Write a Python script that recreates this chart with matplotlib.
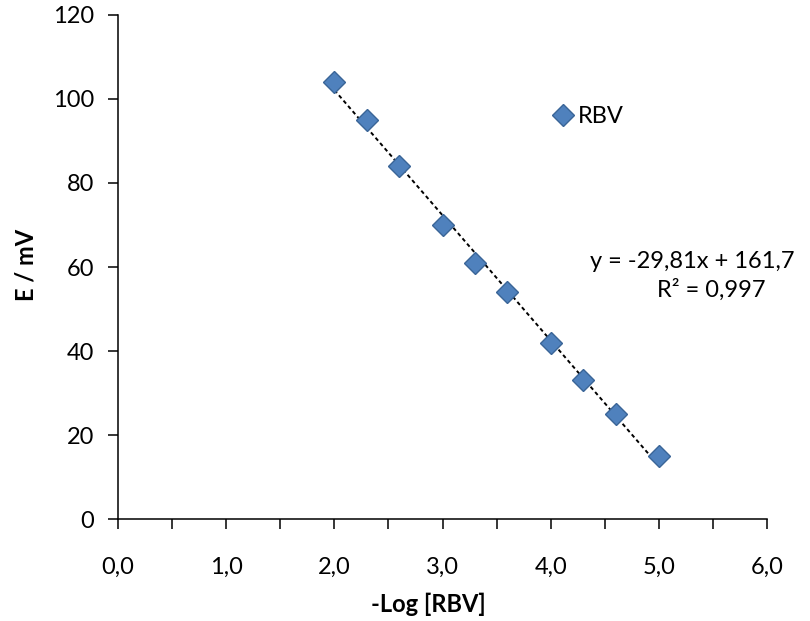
import numpy as np
import matplotlib.pyplot as plt

plt.rcParams['font.family'] = ['Lato', 'DejaVu Sans']

# -Log [RBV] vs potential
log_rbv = [2.0, 2.3, 2.6, 3.0, 3.3, 3.6, 4.0, 4.3, 4.6, 5.0]
e_mv = [104, 95, 84, 70, 61, 54, 42, 33, 25, 15]
eq_text = "y = -29,81x + 161,7"
r2_text = "R² = 0,997"
xticks = [0, 1, 2, 3, 4, 5, 6]
yticks = [0, 20, 40, 60, 80, 100, 120]

fig = plt.figure(figsize=(8.1, 6.21), dpi=100)
ax = fig.add_axes([0.1457, 0.164, 0.8013, 0.812])

# trendline
slope, icpt = np.polyfit(log_rbv, e_mv, 1)
xx = np.array([min(log_rbv), max(log_rbv)])
ax.plot(xx, slope * xx + icpt, color='black', lw=1.4, linestyle=(0, (2, 1.6)), zorder=2)

ax.plot(log_rbv, e_mv, linestyle='none', marker='D', markersize=11.5,
        markerfacecolor='#4F81BD', markeredgecolor='#3A6597', markeredgewidth=1.0,
        label='RBV', zorder=3)

ax.set_xlim(0, 6)
ax.set_ylim(0, 120)
ax.set_xticks(xticks)
ax.set_xticklabels([f"{v:.1f}".replace('.', ',') for v in xticks])
ax.set_xticks(np.arange(0.5, 6, 1.0), minor=True)
ax.set_yticks(yticks)
ax.tick_params(axis='both', which='both', direction='out', length=7, width=1.1,
               labelsize=17, color='black')
ax.tick_params(axis='x', pad=20)
ax.tick_params(axis='y', pad=10)
for s in ['top', 'right']:
    ax.spines[s].set_visible(False)
for s in ['left', 'bottom']:
    ax.spines[s].set_linewidth(1.1)

fig.text(428 / 810, 1 - 604 / 621, '-Log [RBV]', fontsize=17, fontweight='bold',
         ha='center', va='center')
fig.text(26 / 810, 1 - 265 / 621, 'E / mV', fontsize=17, fontweight='bold',
         ha='center', va='center', rotation=90)

leg = ax.legend(loc='center left', bbox_to_anchor=(0.667, 0.798), frameon=False,
                fontsize=17, handletextpad=0.15, handlelength=1.0, markerscale=0.95,
                borderpad=0, borderaxespad=0)

ax.text(5.306, 61.2, eq_text, ha='center', va='center', fontsize=17)
ax.text(5.482, 54.5, r2_text, ha='center', va='center', fontsize=17)

fig.savefig('out.png', dpi=100)
